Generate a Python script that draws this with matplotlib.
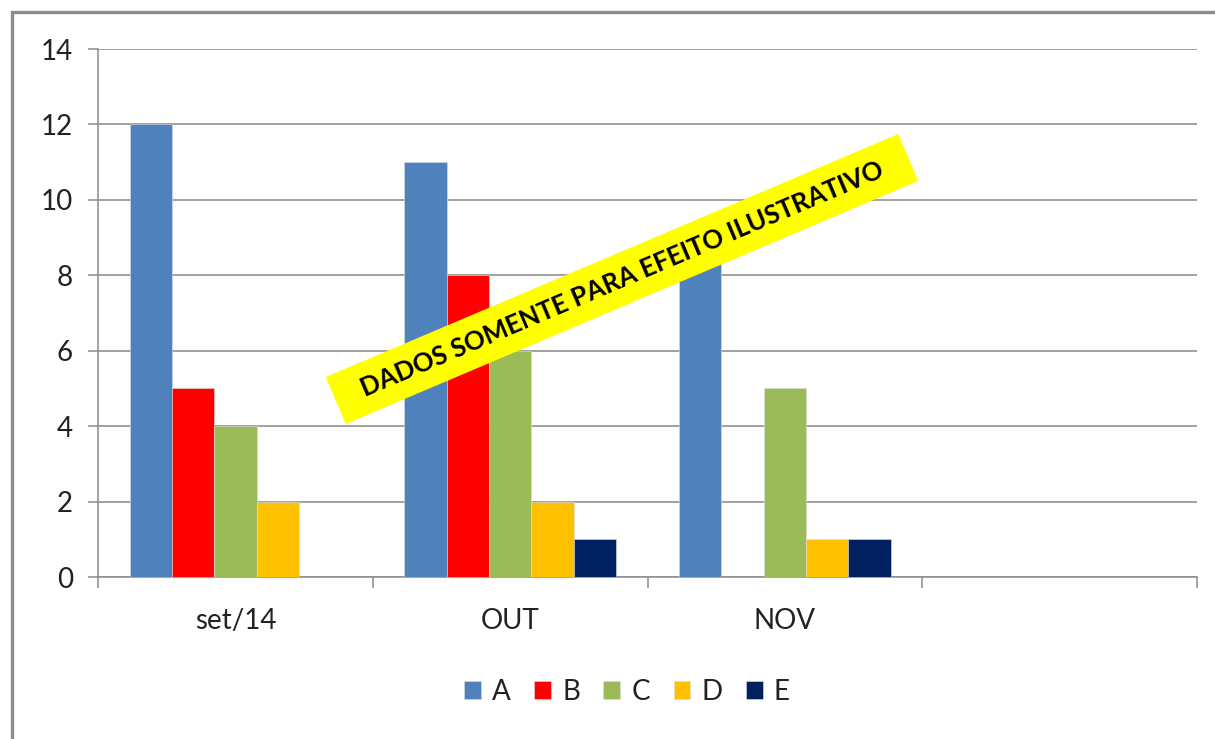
import numpy as np
import matplotlib as mpl
mpl.use('agg')
import matplotlib.pyplot as plt
from matplotlib.lines import Line2D
from matplotlib.patches import Rectangle
from matplotlib.transforms import Affine2D

categories = ["set/14", "OUT", "NOV", ""]
series_names = ["A", "B", "C", "D", "E"]
vals_a = [12, 11, 9, 0]
vals_b = [5, 8, 0, 0]
vals_c = [4, 6, 5, 0]
vals_d = [2, 2, 1, 0]
vals_e = [0, 1, 1, 0]
colors = ["#4F81BD", "#FF0000", "#9BBB59", "#FFC000", "#002060"]
banner_text = "DADOS SOMENTE PARA EFEITO ILUSTRATIVO"

plt.rcParams['font.family'] = ['Lato', 'DejaVu Sans']

if __name__ == "__main__":
    series = [vals_a, vals_b, vals_c, vals_d, vals_e]
    x = np.arange(len(categories))
    w = 1.0 / (len(series) + 1.5)

    fig = plt.figure(figsize=(12.15, 7.39), dpi=100)
    ax = fig.add_axes([98 / 1215, 1 - 577 / 739, 1099 / 1215, 528 / 739])

    for i, (name, vals) in enumerate(zip(series_names, series)):
        ax.bar(x + (i - 2) * w, vals, width=w, color=colors[i], label=name,
               edgecolor="#dddddd", linewidth=0.4, zorder=3)

    ax.set_xlim(-0.5, len(categories) - 0.5)
    ax.set_ylim(0, 14)
    ax.set_yticks(np.arange(0, 15, 2))
    ax.set_xticks(x)
    ax.set_xticklabels(categories)
    ax.set_xticks(np.arange(-0.5, len(categories), 1), minor=True)
    ax.tick_params(axis='x', which='major', length=0, pad=22, labelsize=20,
                   labelcolor="#222222")
    ax.tick_params(axis='x', which='minor', length=8, width=1.1,
                   color="#8c8c8c", direction='out')
    ax.tick_params(axis='y', length=7, width=1.1, color="#8c8c8c",
                   labelsize=20, labelcolor="#222222", pad=11)
    ax.grid(axis='y', color="#9a9a9a", linewidth=1.3, zorder=0)
    for s in ["top", "right"]:
        ax.spines[s].set_visible(False)
    for s in ["left", "bottom"]:
        ax.spines[s].set_color("#8c8c8c")
        ax.spines[s].set_linewidth(1.1)

    fig.legend(loc="center", bbox_to_anchor=(0.516, 0.064), ncol=5,
               frameon=False, fontsize=20, handlelength=0.6,
               handleheight=0.6, handletextpad=0.4, columnspacing=0.85,
               labelcolor="#222222")

    # outer chart frame (cut at right/bottom)
    fig.add_artist(Line2D([12 / 1215, 12 / 1215, 1.02],
                          [-0.02, 1 - 12 / 739, 1 - 12 / 739],
                          transform=fig.transFigure, color="#8c8c8c",
                          linewidth=2.4, solid_joinstyle='miter'))

    # yellow banner (inches, 100 px per inch)
    cx, cy, bw, bh = 6.22, 4.60, 6.22, 0.51
    rot = Affine2D().rotate_deg_around(cx, cy, 23) + fig.dpi_scale_trans
    fig.add_artist(Rectangle((cx - bw / 2, cy - bh / 2), bw, bh,
                             transform=rot, facecolor="#FFFF00",
                             edgecolor="none", zorder=9))
    fig.text(cx / 12.15, cy / 7.39, banner_text, rotation=23,
             rotation_mode='anchor', ha='center', va='center',
             fontsize=18.5, fontweight='bold', color='black', zorder=10)

    fig.savefig("out.png", dpi=100)
